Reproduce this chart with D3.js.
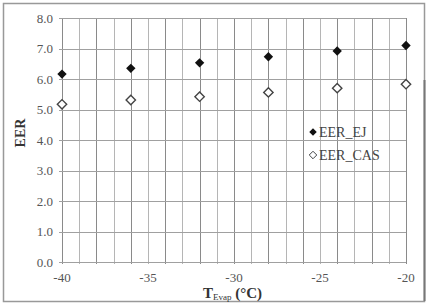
<!DOCTYPE html>
<html><head><meta charset="utf-8">
<script src="https://cdn.jsdelivr.net/npm/d3@7"></script>
<style>body{margin:0;background:#fff}svg{display:block}text{font-family:"Liberation Serif","Times New Roman",serif}</style>
</head><body><svg id="c" width="429" height="308"></svg>
<script>
const temps = [-40, -36, -32, -28, -24, -20];
const eerEJ = [6.16, 6.35, 6.53, 6.73, 6.92, 7.1];
const eerCAS = [5.17, 5.31, 5.42, 5.56, 5.70, 5.83];
const xTicks = [-40, -35, -30, -25, -20];
const yTicks = [0, 1, 2, 3, 4, 5, 6, 7, 8];
const seriesNames = ["EER_EJ", "EER_CAS"];

const svg = d3.select("#c");
const m = {l: 62, r: 406, t: 18, b: 262};
const x = d3.scaleLinear().domain([-40, -20]).range([m.l, m.r]);
const y = d3.scaleLinear().domain([0, 8]).range([m.b, m.t]);

svg.append("rect").attr("x", 3.5).attr("y", 3.5).attr("width", 421).attr("height", 298)
  .attr("fill", "#fff").attr("stroke", "#999").attr("stroke-width", 1.5);
svg.append("line").attr("x1", 424.5).attr("x2", 424.5).attr("y1", 80).attr("y2", 301)
  .attr("stroke", "#777").attr("stroke-width", 2);

const g = svg.append("g");
g.selectAll(".vg").data(d3.range(-40, -19, 1)).join("line")
  .attr("x1", d => Math.round(x(d)) + 0.5).attr("x2", d => Math.round(x(d)) + 0.5)
  .attr("y1", m.t).attr("y2", m.b + 2)
  .attr("stroke", (d, i) => i % 2 === 0 ? "#8a8a8a" : "#b5b5b5").attr("stroke-width", 1);
g.selectAll(".hg").data(yTicks).join("line")
  .attr("x1", m.l - 3).attr("x2", m.r)
  .attr("y1", d => Math.round(y(d)) + 0.5).attr("y2", d => Math.round(y(d)) + 0.5)
  .attr("stroke", "#a0a0a0").attr("stroke-width", 1);

g.selectAll(".yl").data(yTicks).join("text")
  .attr("x", m.l - 9).attr("y", d => y(d) + 4.5)
  .attr("text-anchor", "end").attr("font-size", 13).attr("fill", "#555")
  .text(d => d3.format(".1f")(d));
g.selectAll(".xl").data(xTicks).join("text")
  .attr("x", d => x(d)).attr("y", 282)
  .attr("text-anchor", "middle").attr("font-size", 13).attr("fill", "#555")
  .text(d => d);

svg.append("text").attr("transform", "translate(25,133) rotate(-90)")
  .attr("text-anchor", "middle").attr("font-size", 14).attr("font-weight", "bold").attr("fill", "#333")
  .text("EER");
const xt = svg.append("text").attr("x", 203).attr("y", 298).attr("text-anchor", "start")
  .attr("font-size", 15).attr("font-weight", "bold").attr("fill", "#333");
xt.append("tspan").text("T");
xt.append("tspan").attr("font-size", 9).attr("font-weight", "normal").attr("dy", 2).text("Evap");
xt.append("tspan").attr("dy", -2).text(" (°C)");

const diamond = d3.symbol().type(d3.symbolDiamond2).size(56);
g.selectAll(".ej").data(temps).join("path")
  .attr("transform", (d, i) => `translate(${x(d)},${y(eerEJ[i])})`)
  .attr("d", diamond).attr("fill", "#111");
g.selectAll(".cas").data(temps).join("path")
  .attr("transform", (d, i) => `translate(${x(d)},${y(eerCAS[i])})`)
  .attr("d", diamond).attr("fill", "#fff").attr("stroke", "#444").attr("stroke-width", 1.4);

const lg = svg.append("g");
const ly = [132, 155];
lg.append("path").attr("transform", `translate(313,${ly[0]})`).attr("d", d3.symbol().type(d3.symbolDiamond2).size(36)).attr("fill", "#111");
lg.append("path").attr("transform", `translate(313,${ly[1]})`).attr("d", d3.symbol().type(d3.symbolDiamond2).size(36)).attr("fill", "#fff").attr("stroke", "#444");
lg.selectAll("text").data(seriesNames).join("text")
  .attr("x", 319).attr("y", (d, i) => ly[i] + 5).attr("font-size", 14).attr("fill", "#444").text(d => d);
</script></body></html>
